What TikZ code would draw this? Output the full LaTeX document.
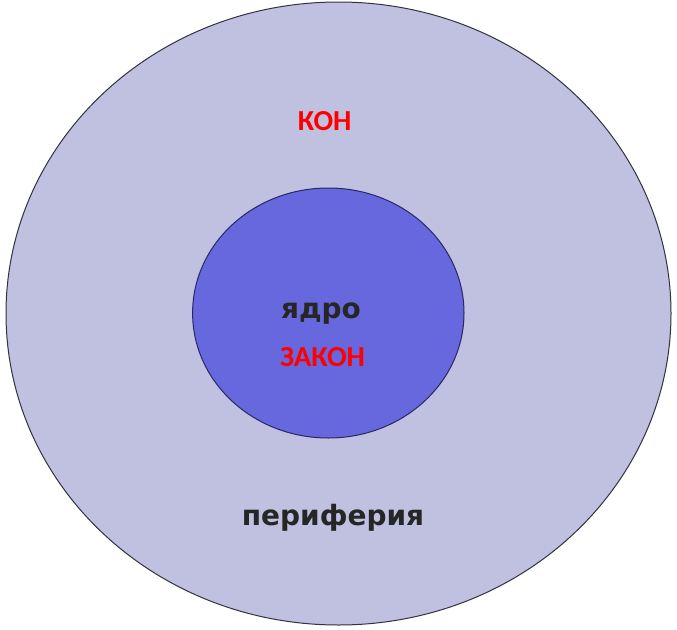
\documentclass[tikz,border=0pt]{standalone}
\usepackage{fontspec}
\setmainfont{DejaVu Sans}
\newfontfamily\redfont{Carlito}
\definecolor{outerfill}{RGB}{192,192,225}
\definecolor{innerfill}{RGB}{103,103,222}
\definecolor{edgecol}{RGB}{50,50,65}
\definecolor{redtext}{RGB}{255,0,0}
\tikzset{
  blacklabel/.style={font=\bfseries\fontsize{28}{32}\selectfont, text=black!85, inner sep=0pt},
  redlabel/.style={font=\redfont\bfseries\fontsize{29}{33}\selectfont, text=redtext, inner sep=0pt}
}
\begin{document}
\begin{tikzpicture}[x=1pt,y=-1pt]
\useasboundingbox (0,0) rectangle (677,629);
\fill[white] (0,0) rectangle (677,629);
\draw[fill=outerfill, draw=edgecol, line width=1pt] (338.5,313.5) ellipse [x radius=332.5, y radius=311.5];
\draw[fill=innerfill, draw=edgecol!80!blue, line width=1pt] (328.3,313) ellipse [x radius=135.7, y radius=125];
\node[redlabel] (kon) at (324.7,121) {КОН};
\node[blacklabel, anchor=base] (yadro) at (321,318) {ядро};
\node[redlabel] (zakon) at (322.5,357) {ЗАКОН};
\node[blacklabel, anchor=base] (periferia) at (333,525) {периферия};
\end{tikzpicture}
\end{document}
